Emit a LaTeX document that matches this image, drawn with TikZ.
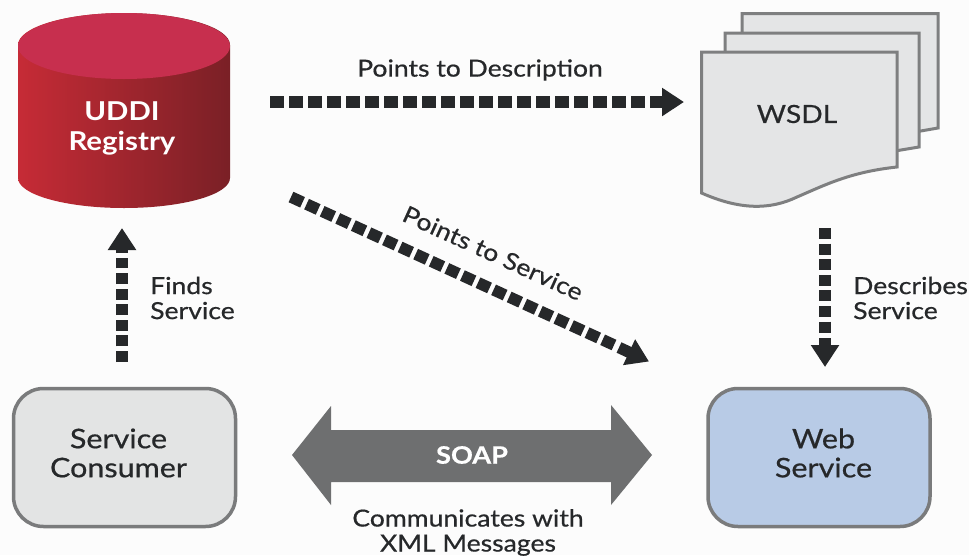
\documentclass[tikz,border=0pt]{standalone}
\usepackage{fontspec}
\setmainfont[FakeStretch=1.13,FakeBold=0.6]{Lato}
\newfontfamily\headfont[FakeStretch=1.13]{Lato}
\usetikzlibrary{arrows.meta}
\definecolor{ink}{HTML}{26282A}
\definecolor{pagefill}{HTML}{E4E5E6}
\definecolor{pageline}{HTML}{7E7F80}
\definecolor{boxline}{HTML}{7A7B7C}
\definecolor{redtop}{HTML}{C72F4E}
\definecolor{redleft}{HTML}{C62B36}
\definecolor{redmid}{HTML}{B02A30}
\definecolor{redright}{HTML}{7A2026}
\definecolor{soapgrey}{HTML}{6E6F70}
\definecolor{consumerfill}{HTML}{E3E4E4}
\definecolor{servicefill}{HTML}{B8CBE6}
\tikzset{
  x=1pt,y=-1pt,
  lbl/.style={font=\fontsize{23.5}{25}\selectfont,text=ink,inner sep=0pt,align=center},
  lblleft/.style={lbl,align=left,anchor=west},
  boxlbl/.style={font=\fontsize{27}{29}\selectfont,text=ink,inner sep=0pt,align=center},
  whitelbl/.style={font=\headfont\fontsize{26}{30}\selectfont\bfseries,text=white,inner sep=0pt,align=center},
  dashline/.style={draw=ink,line width=11.5pt},
  headline/.style={draw=ink,line width=11.5pt,-{Triangle[length=22pt,width=27pt,fill=ink]}},
  pagesheet/.style={draw=pageline,fill=pagefill,line width=3pt,line join=miter},
  roundbox/.style={draw=boxline,line width=3.5pt,rounded corners=30pt,minimum width=222pt,minimum height=138pt,inner sep=0pt},
}
\begin{document}
\begin{tikzpicture}
\useasboundingbox (0,0) rectangle (969,555);
\fill[white!99!black] (0,0) rectangle (969,555);

% UDDI cylinder
\path[left color=redleft,middle color=redmid,right color=redright]
  (18,45) -- (18,178) arc[start angle=180,end angle=0,x radius=106,y radius=30] -- (230,45)
  arc[start angle=0,end angle=-180,x radius=106,y radius=32] -- cycle;
\fill[redtop] (124,46) ellipse[x radius=106,y radius=33];
\node[whitelbl] (registry) at (122,128) {UDDI\\Registry};

% WSDL pages
\draw[pagesheet] (742,60) -- (742,13.5) -- (938,13.5) -- (938,128) -- (915,132);
\draw[pagesheet] (725,60) -- (725,33) -- (919,33) -- (919,147) -- (895,151);
\draw[pagesheet] (701.5,52) -- (897,52) -- (897,167)
  .. controls (850,172) and (825,185) .. (797,197)
  .. controls (770,210) and (740,210) .. (701.5,193) -- cycle;
\node[font=\fontsize{25}{29}\selectfont,text=ink,inner sep=0pt] (wsdl) at (797,114) {WSDL};

% Boxes
\node[roundbox,fill=consumerfill] (consumer) at (124.5,457.5) {};
\node[boxlbl] (consumerlabel) at (118.5,453) {Service\\Consumer};
\node[roundbox,fill=servicefill] (service) at (819,457.5) {};
\node[boxlbl] (servicelabel) at (823.5,453) {Web\\Service};

% SOAP double arrow
\fill[soapgrey] (292,455) -- (331,406) -- (331,430) -- (611,430) -- (611,405) -- (652,455)
  -- (611,505) -- (611,482) -- (331,482) -- (331,505) -- cycle;
\node[font=\fontsize{24}{29}\selectfont\bfseries,text=white,inner sep=0pt] (soap) at (472,455) {SOAP};

% Connector ends: dashed shaft, then a short solid stem with the head
\coordinate (a1) at (270,102); \coordinate (m1) at (645,102); \coordinate (s1) at (650,102); \coordinate (b1) at (684,102);
\coordinate (a2) at (291,197); \coordinate (m2) at (614,345); \coordinate (s2) at (619,347.5); \coordinate (b2) at (649,361.5);
\coordinate (a3) at (122,362); \coordinate (m3) at (122,258); \coordinate (s3) at (122,253); \coordinate (b3) at (122,228);
\coordinate (a4) at (825,228); \coordinate (m4) at (825,333); \coordinate (s4) at (825,338); \coordinate (b4) at (825,367);
\draw[dashline,dash pattern=on 14pt off 5pt] (a1) -- (m1);
\draw[headline] (s1) -- (b1);
\draw[dashline,dash pattern=on 12.7pt off 4.44pt] (a2) -- (m2);
\draw[headline] (s2) -- (b2);
\draw[dashline,dash pattern=on 11pt off 4.6pt] (a3) -- (m3);
\draw[headline] (s3) -- (b3);
\draw[dashline,dash pattern=on 11pt off 4.6pt] (a4) -- (m4);
\draw[headline] (s4) -- (b4);

% Labels
\node[lbl] (l1) at (480,70) {Points to Description};
\node[lbl,rotate=-24.5] (l2) at (493,253) {Points to Service};
\node[lblleft] (l3) at (150,298) {Finds\\Service};
\node[lblleft] (l4) at (853,298) {Describes\\Service};
\node[lbl] (l5) at (468,532.5) {Communicates with\\XML Messages};
\end{tikzpicture}
\end{document}
